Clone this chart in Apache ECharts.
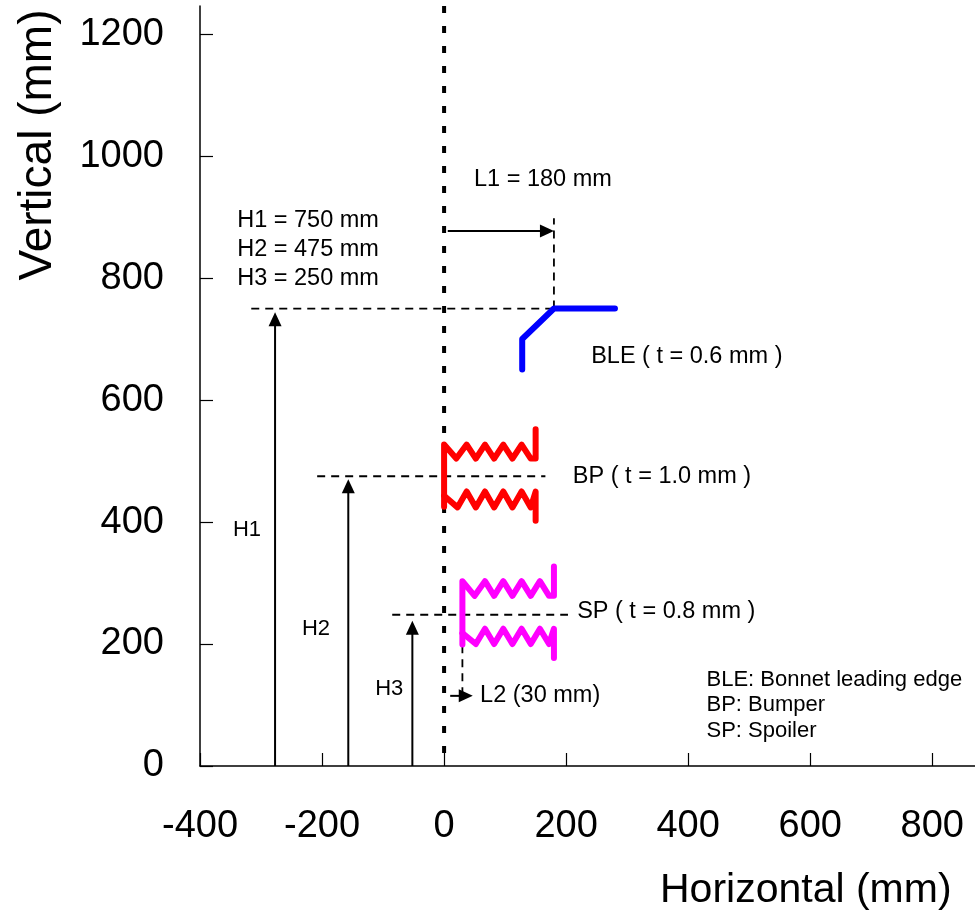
<!DOCTYPE html>
<html>
<head>
<meta charset="utf-8">
<script src="https://cdn.jsdelivr.net/npm/echarts@6/dist/echarts.min.js"></script>
<style>
html,body{margin:0;padding:0;background:#fff;}
#chart{width:975px;height:922px;}
</style>
</head>
<body>
<div id="chart"></div>
<script>
// ---- Axis settings / tick labels ----
var xTicks = [-400, -200, 0, 200, 400, 600, 800];
var yTicks = [0, 200, 400, 600, 800, 1000, 1200];
var xMin = -400, xMax = 870, yMin = 0, yMax = 1246;

// ---- Part outlines (mm) ----
var bleLine = [[280, 750], [180, 750], [128, 700], [128, 650]];
var bpUpper = [[0, 425], [0, 527], [20, 504], [37, 527], [52, 504], [67, 527], [82, 504], [97, 527], [112, 504], [127, 527], [142, 504], [150, 504], [150, 552]];
var bpLower = [[0, 443], [22, 424], [37, 450], [52, 424], [67, 450], [82, 424], [97, 450], [112, 424], [127, 450], [142, 424], [150, 450], [150, 402]];
var spUpper = [[30, 199], [30, 303], [50, 279], [67, 303], [82, 279], [97, 303], [112, 279], [127, 303], [142, 279], [157, 303], [172, 279], [180, 279], [180, 327]];
var spLower = [[30, 218], [52, 200], [67, 225], [82, 200], [97, 225], [112, 200], [127, 225], [142, 200], [157, 225], [172, 200], [180, 225], [180, 177]];

// ---- Reference lines (mm) ----
var centerLine = [[0, 1246], [0, 0]];
var h1Dash = [[-316, 750], [180, 750]];
var l1Dash = [[180, 750], [180, 898]];
var h2Dash = [[-208, 475], [166, 475]];
var h3Dash = [[-85, 248], [203, 248]];
var l2Dash = [[30, 198], [30, 120]];

// ---- Arrows [x1, y1, x2(tip), y2(tip)] ----
var arrows = [
  [-277, 0, -277, 744],
  [-157, 0, -157, 470],
  [-52, 0, -52, 238],
  [6, 877, 180, 877],
  [10, 115, 47, 115]
];

// ---- Annotations ----
var annoText = ['L1 = 180 mm', 'H1 = 750 mm', 'H2 = 475 mm', 'H3 = 250 mm',
  'BLE ( t = 0.6 mm )', 'BP ( t = 1.0 mm )', 'SP ( t = 0.8 mm )', 'L2 (30 mm)'];
var annoX = [49, -339, -339, -339, 241, 211, 218, 59];
var annoY = [961, 895, 847, 799, 672, 474, 254, 116];

var smallText = ['H1', 'H2', 'H3', 'BLE: Bonnet leading edge', 'BP: Bumper', 'SP: Spoiler'];
var smallX = [-346, -233, -113, 430, 430, 430];
var smallY = [387, 225, 126, 141, 100, 57];

var FONT = '"Liberation Sans", Arial, Helvetica, sans-serif';

function lineSeries(data, color, width, type, cap) {
  return {
    type: 'line', data: data, showSymbol: false, symbol: 'none', silent: true,
    animation: false, z: 3,
    lineStyle: { color: color, width: width, type: type || 'solid', cap: cap || 'butt', join: 'round' }
  };
}

function textSeries(xs, ys, texts, size) {
  return {
    type: 'custom', silent: true, animation: false, z: 5,
    data: xs.map(function (x, i) { return [x, ys[i]]; }),
    renderItem: function (params, api) {
      var p = api.coord([api.value(0), api.value(1)]);
      return {
        type: 'text', x: p[0], y: p[1],
        style: { text: texts[params.dataIndex], fill: '#000', font: size + 'px ' + FONT, align: 'left', verticalAlign: 'middle' }
      };
    }
  };
}

var chart = echarts.init(document.getElementById('chart'), null, { renderer: 'canvas' });
var option = {
  animation: false,
  backgroundColor: '#fff',
  grid: { left: 200, right: 0, top: 6, bottom: 156, containLabel: false },
  xAxis: {
    type: 'value', min: xMin, max: xMax, interval: 200,
    axisLine: { show: true, onZero: false, lineStyle: { color: '#000', width: 1.5 } },
    axisTick: { show: true, inside: true, length: 13, customValues: xTicks, lineStyle: { color: '#000', width: 1.2 } },
    splitLine: { show: false },
    axisLabel: {
      margin: 42, color: '#000', fontSize: 38, fontFamily: FONT, customValues: xTicks,
      formatter: function (v) { return xTicks.indexOf(v) >= 0 ? String(v) : ''; }
    }
  },
  yAxis: {
    type: 'value', min: yMin, max: yMax, interval: 200,
    axisLine: { show: true, onZero: false, lineStyle: { color: '#000', width: 1.5 } },
    axisTick: { show: true, inside: true, length: 13, customValues: yTicks, lineStyle: { color: '#000', width: 1.2 } },
    splitLine: { show: false },
    axisLabel: {
      margin: 36, color: '#000', fontSize: 38, fontFamily: FONT, customValues: yTicks,
      formatter: function (v) { return yTicks.indexOf(v) >= 0 ? String(v) : ''; }
    }
  },
  graphic: [
    { type: 'text', left: 660, top: 870, style: { text: 'Horizontal (mm)', fill: '#000', font: '41px ' + FONT } },
    { type: 'text', x: 38, y: 145, rotation: Math.PI / 2,
      style: { text: 'Vertical (mm)', fill: '#000', font: '46px ' + FONT, align: 'center', verticalAlign: 'middle' } }
  ],
  series: [
    lineSeries(centerLine, '#000', 4, [7, 13]),
    lineSeries(h1Dash, '#000', 1.8, [8, 6]),
    lineSeries(l1Dash, '#000', 1.8, [8, 6]),
    lineSeries(h2Dash, '#000', 1.8, [8, 6]),
    lineSeries(h3Dash, '#000', 1.8, [8, 6]),
    lineSeries(l2Dash, '#000', 1.8, [8, 6]),
    lineSeries(bleLine, '#0000ff', 6, 'solid', 'round'),
    lineSeries(bpUpper, '#ff0000', 6, 'solid', 'round'),
    lineSeries(bpLower, '#ff0000', 6, 'solid', 'round'),
    lineSeries(spUpper, '#ff00ff', 6, 'solid', 'round'),
    lineSeries(spLower, '#ff00ff', 6, 'solid', 'round'),
    {
      type: 'custom', silent: true, animation: false, z: 4,
      data: arrows,
      renderItem: function (params, api) {
        var p1 = api.coord([api.value(0), api.value(1)]);
        var p2 = api.coord([api.value(2), api.value(3)]);
        var dx = p2[0] - p1[0], dy = p2[1] - p1[1];
        var len = Math.sqrt(dx * dx + dy * dy);
        var ux = dx / len, uy = dy / len;
        var hl = 14, hw = 6.5;
        var bx = p2[0] - ux * hl, by = p2[1] - uy * hl;
        return {
          type: 'group', children: [
            { type: 'line', shape: { x1: p1[0], y1: p1[1], x2: bx + ux * 2, y2: by + uy * 2 },
              style: { stroke: '#000', lineWidth: 2 } },
            { type: 'polygon', shape: { points: [[p2[0], p2[1]], [bx - uy * hw, by + ux * hw], [bx + uy * hw, by - ux * hw]] },
              style: { fill: '#000' } }
          ]
        };
      }
    },
    textSeries(annoX, annoY, annoText, 23.5),
    textSeries(smallX, smallY, smallText, 22)
  ]
};
chart.setOption(option);
</script>
</body>
</html>
